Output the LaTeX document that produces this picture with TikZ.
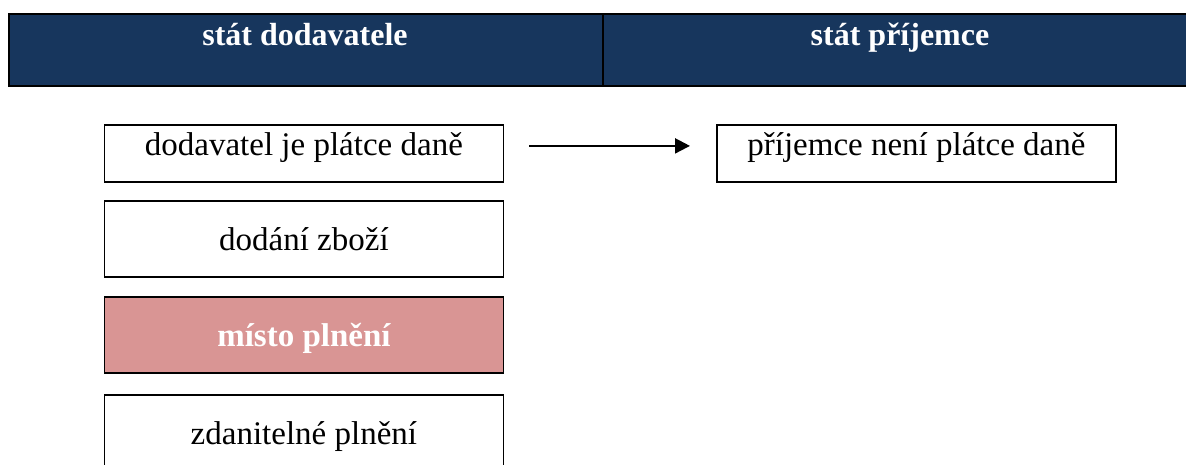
\documentclass[tikz,border=0pt]{standalone}
\usepackage{fontspec}
\setmainfont{Liberation Serif}
\usetikzlibrary{arrows.meta}
\definecolor{hdrblue}{RGB}{23,54,93}
\definecolor{pinkfill}{RGB}{217,149,148}
\tikzset{
  hdrtext/.style={text=white,font=\fontsize{32}{38}\selectfont\bfseries,anchor=base,inner sep=0pt},
  bx/.style={draw=black,line width=1.8pt,fill=white,minimum width=399pt,inner sep=0pt,
    anchor=north west,font=\fontsize{33}{40}\selectfont,align=center},
  smallbx/.style={bx,text height=31pt,text depth=26pt},
  tallbx/.style={bx,text height=50pt,text depth=26pt},
  hot/.style={fill=pinkfill,text=white,font=\fontsize{33}{40}\selectfont\bfseries},
  conn/.style={line width=2.2pt,-{Triangle[length=15pt,width=15pt]}}
}
\begin{document}
\begin{tikzpicture}[x=1pt,y=-1pt]
\useasboundingbox (0,0) rectangle (1186,464);
\clip (0,0) rectangle (1186,464);
% header
\node[draw=black,line width=2.4pt,fill=hdrblue,minimum width=1190pt,minimum height=72pt,inner sep=0pt,anchor=north west] (hdr) at (8,13) {};
\coordinate (dtop) at (603,13);
\coordinate (dbot) at (603,85);
\draw[line width=2.4pt] (dtop) -- (dbot);
\node[hdrtext] (h1) at (305,45) {stát dodavatele};
\node[hdrtext] (h2) at (900,45) {stát příjemce};
% boxes
\node[smallbx] (b1) at (103.5,124) {dodavatel je plátce daně};
\node[tallbx] (b2) at (103.5,200) {dodání zboží};
\node[tallbx,hot] (b3) at (103.5,296) {místo plnění};
\node[tallbx] (b4) at (103.5,394) {zdanitelné plnění};
\node[smallbx] (r1) at (716,124) {příjemce není plátce daně};
% arrow
\draw[conn,shorten <=25pt,shorten >=26pt] ([yshift=7.5pt]b1.east) -- ([yshift=7.5pt]r1.west);
\end{tikzpicture}
\end{document}
